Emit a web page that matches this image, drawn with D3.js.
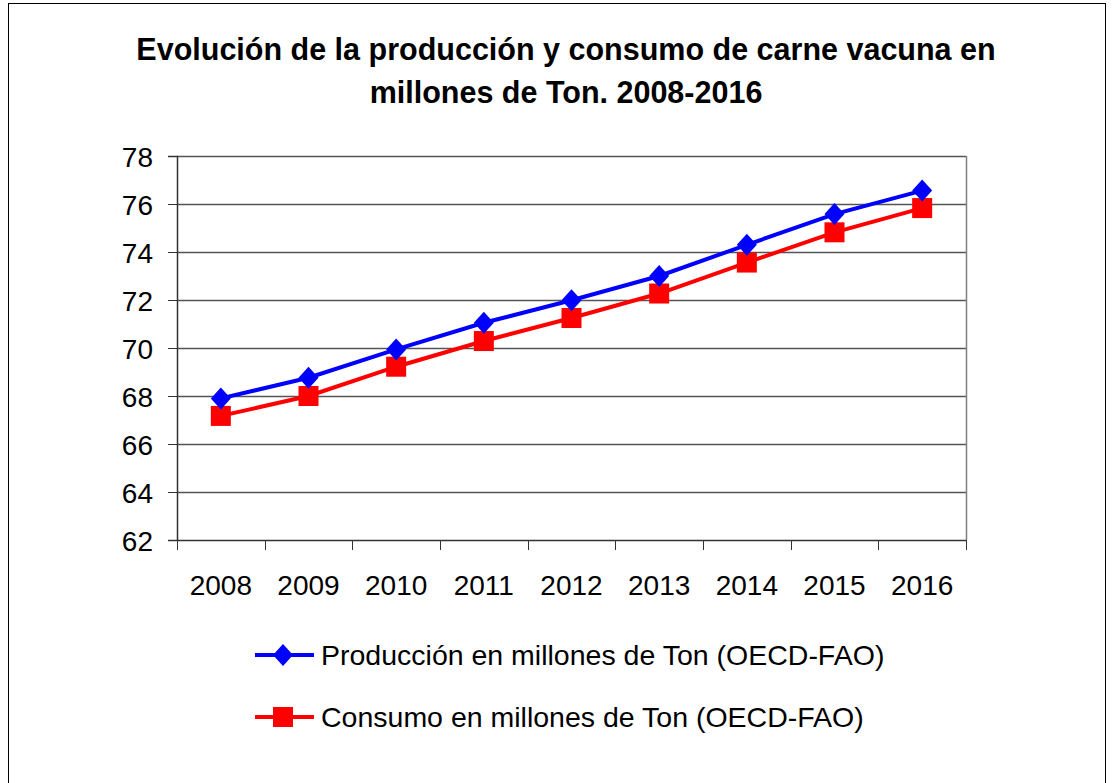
<!DOCTYPE html>
<html>
<head>
<meta charset="utf-8">
<script src="https://cdn.jsdelivr.net/npm/d3@7"></script>
<style>
  body { margin: 0; background: #fff; }
  text { font-family: "Liberation Sans", Arial, sans-serif; fill: #000; }
</style>
</head>
<body>
<script>
// data
var years = ["2008", "2009", "2010", "2011", "2012", "2013", "2014", "2015", "2016"];
var produccion = [67.9, 68.76, 69.94, 71.05, 71.99, 73.0, 74.3, 75.58, 76.56];
var consumo = [67.17, 68.0, 69.22, 70.29, 71.25, 72.27, 73.56, 74.82, 75.83];
var yTicks = [62, 64, 66, 68, 70, 72, 74, 76, 78];
var seriesNames = ["Producción en millones de Ton (OECD-FAO)", "Consumo en millones de Ton (OECD-FAO)"];
var titleLines = ["Evolución de la producción y consumo de carne vacuna en", "millones de Ton. 2008-2016"];

var width = 1112, height = 783;
var plot = {left: 177, right: 966, top: 156, bottom: 540};

var svg = d3.select("body").append("svg")
    .attr("width", width)
    .attr("height", height);

// outer frame
svg.append("rect")
    .attr("x", 8.5).attr("y", 3.5)
    .attr("width", 1097).attr("height", 790)
    .attr("fill", "#fff")
    .attr("stroke", "#000")
    .attr("stroke-width", 1);

// title
svg.append("text")
    .attr("text-anchor", "middle")
    .style("font-weight", "bold")
    .style("font-size", "30.5px")
    .selectAll("tspan")
    .data(titleLines)
  .enter().append("tspan")
    .attr("x", 566)
    .attr("y", (d, i) => 60 + i * 43)
    .text(d => d);

var x = d3.scaleBand().domain(years).range([plot.left, plot.right]);
var y = d3.scaleLinear().domain([62, 78]).range([plot.bottom, plot.top]);

// gridlines
svg.append("g").selectAll("line")
    .data(yTicks.filter(t => t > 62))
  .enter().append("line")
    .attr("x1", plot.left).attr("x2", plot.right)
    .attr("y1", d => Math.round(y(d)) + 0.5)
    .attr("y2", d => Math.round(y(d)) + 0.5)
    .attr("stroke", "#555")
    .attr("stroke-width", 1.3);

// plot border right side
svg.append("line")
    .attr("x1", plot.right + 0.5).attr("x2", plot.right + 0.5)
    .attr("y1", plot.top).attr("y2", plot.bottom)
    .attr("stroke", "#808080").attr("stroke-width", 1.5);

// y axis
var yAxis = svg.append("g")
    .attr("transform", "translate(" + plot.left + ",0)")
    .call(d3.axisLeft(y).tickValues(yTicks).tickSize(9).tickPadding(15));
yAxis.select(".domain").attr("stroke", "#333").attr("stroke-width", 1.5);
yAxis.selectAll(".tick line").attr("stroke", "#333");
yAxis.selectAll("text").style("font-size", "28px").attr("font-family", null).attr("dy", "0.36em");

// x axis: ticks at band boundaries, labels at centers
var xAxis = svg.append("g")
    .attr("transform", "translate(0," + plot.bottom + ")");
xAxis.append("line")
    .attr("x1", plot.left).attr("x2", plot.right)
    .attr("y1", 0.5).attr("y2", 0.5)
    .attr("stroke", "#333").attr("stroke-width", 1.5);
xAxis.selectAll(".xt")
    .data(years.map(d => x(d)).concat([plot.right]))
  .enter().append("line")
    .attr("class", "xt")
    .attr("x1", d => Math.round(d) + 0.5).attr("x2", d => Math.round(d) + 0.5)
    .attr("y1", 0).attr("y2", 10)
    .attr("stroke", "#333");
xAxis.selectAll(".xl")
    .data(years)
  .enter().append("text")
    .attr("class", "xl")
    .attr("x", d => x(d) + x.bandwidth() / 2)
    .attr("y", 55)
    .attr("text-anchor", "middle")
    .style("font-size", "28px")
    .text(d => d);

var cx = d => x(d) + x.bandwidth() / 2;
var line = d3.line().x(d => cx(d.year)).y(d => y(d.v));

var series = [
  {name: seriesNames[0], color: "#0000ff", shape: "diamond", values: years.map((yr, i) => ({year: yr, v: produccion[i]}))},
  {name: seriesNames[1], color: "#ff0000", shape: "square", values: years.map((yr, i) => ({year: yr, v: consumo[i]}))}
];

function marker(g, shape, color) {
  if (shape === "diamond") {
    g.append("path").attr("d", "M0,-11L10,0L0,11L-10,0Z").attr("fill", color);
  } else {
    g.append("rect").attr("x", -10).attr("y", -10).attr("width", 20).attr("height", 20).attr("fill", color);
  }
}

series.forEach(s => {
  svg.append("path")
    .datum(s.values)
    .attr("d", line)
    .attr("fill", "none")
    .attr("stroke", s.color)
    .attr("stroke-width", 4);
});
// squares below, diamonds on top like the original
[series[1], series[0]].forEach(s => {
  svg.append("g").selectAll("g")
    .data(s.values)
  .enter().append("g")
    .attr("transform", d => "translate(" + cx(d.year) + "," + y(d.v) + ")")
    .each(function() { marker(d3.select(this), s.shape, s.color); });
});

// legend
var legend = svg.append("g");
series.forEach((s, i) => {
  var ly = 655 + i * 62;
  var g = legend.append("g").attr("transform", "translate(0," + ly + ")");
  g.append("line").attr("x1", 255).attr("x2", 314).attr("y1", 0).attr("y2", 0)
    .attr("stroke", s.color).attr("stroke-width", 4);
  var m = g.append("g").attr("transform", "translate(283,0)");
  marker(m, s.shape, s.color);
  g.append("text").attr("x", 321).attr("y", 10)
    .style("font-size", "28.5px")
    .text(s.name);
});
</script>
</body>
</html>
